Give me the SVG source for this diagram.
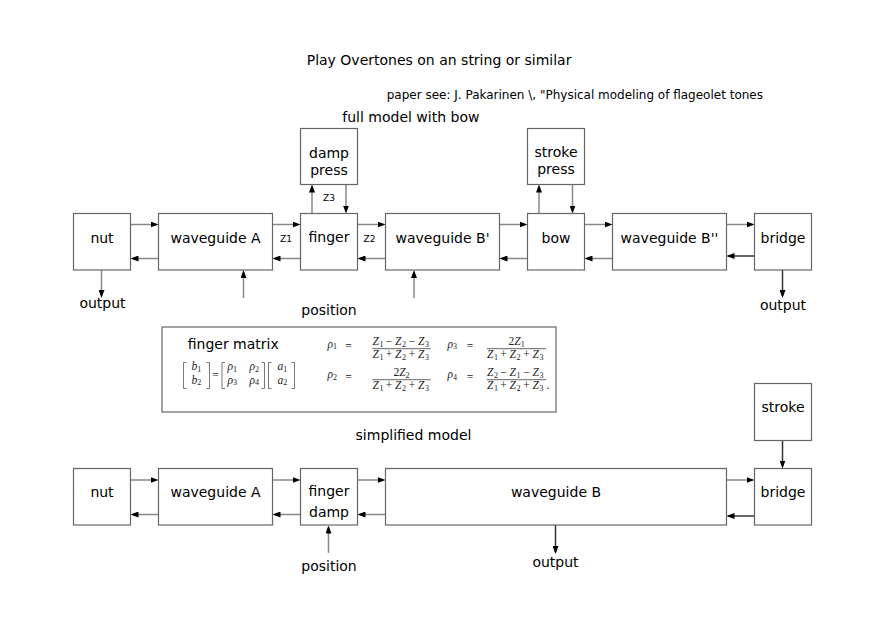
<svg xmlns="http://www.w3.org/2000/svg" width="892" height="626" viewBox="0 0 892 626">
<defs>
<style>
.box{fill:#fff;stroke:#666;stroke-width:1.2}
.t{font-family:"DejaVu Sans","Liberation Sans",sans-serif;font-size:14px;fill:#000;text-anchor:middle}
.ts{font-family:"DejaVu Sans","Liberation Sans",sans-serif;font-size:12px;fill:#000}
.z{font-family:"DejaVu Sans","Liberation Sans",sans-serif;font-size:9px;fill:#000;text-anchor:middle}
.ln{stroke:#888;stroke-width:1.5;fill:none;marker-end:url(#ah)}
.dk{stroke:#333}
.m{font-family:"Liberation Serif","DejaVu Serif",serif;font-size:11.5px;fill:#222}
.it{font-style:italic}
.s{font-size:8px;font-style:normal}
.br{stroke:#555;stroke-width:0.8;fill:none}
.bar{stroke:#222;stroke-width:0.7}
</style>
<marker id="ah" viewBox="0 0 8 6" refX="6" refY="3" markerWidth="8" markerHeight="6" markerUnits="userSpaceOnUse" orient="auto"><path d="M0,0 L8,3 L0,6 z" fill="#000"/></marker>
</defs>
<rect width="892" height="626" fill="#fff"/>

<g id="captions">
<text class="ts" x="306.7" y="64.5" style="font-size:14px">Play Overtones on an string or similar</text>
<text class="ts" x="386.7" y="99">paper see: J. Pakarinen \, "Physical modeling of flageolet tones</text>
<text class="ts" x="342.3" y="122" style="font-size:14px">full model with bow</text>
<text class="t" x="413.5" y="440.3">simplified model</text>
</g>

<g id="connectors">
<line class="ln" x1="130.5" y1="224.5" x2="156.5" y2="224.5"/>
<line class="ln" x1="158.5" y1="258.5" x2="132.5" y2="258.5"/>
<line class="ln" x1="272.5" y1="224.5" x2="298.5" y2="224.5"/>
<line class="ln" x1="300.5" y1="258.5" x2="274.5" y2="258.5"/>
<line class="ln" x1="357.5" y1="224.5" x2="383.5" y2="224.5"/>
<line class="ln" x1="385.5" y1="258.5" x2="359.5" y2="258.5"/>
<line class="ln" x1="499.5" y1="224.5" x2="525.5" y2="224.5"/>
<line class="ln" x1="527.5" y1="258.5" x2="501.5" y2="258.5"/>
<line class="ln" x1="584.5" y1="224.5" x2="610.5" y2="224.5"/>
<line class="ln" x1="612.5" y1="258.5" x2="586.5" y2="258.5"/>
<line class="ln" x1="726.5" y1="224.5" x2="752.5" y2="224.5"/>
<line class="ln dk" x1="754.5" y1="256" x2="728.5" y2="256"/>
<line class="ln" x1="312" y1="213.5" x2="312" y2="186.5"/>
<line class="ln" x1="346" y1="184.5" x2="346" y2="211.5"/>
<line class="ln" x1="539" y1="213.5" x2="539" y2="186.5"/>
<line class="ln" x1="572.5" y1="184.5" x2="572.5" y2="211.5"/>
<line class="ln" x1="243.5" y1="298" x2="243.5" y2="272"/>
<line class="ln" x1="414" y1="298" x2="414" y2="272"/>
<line class="ln" x1="101.5" y1="270" x2="101.5" y2="296"/>
<line class="ln dk" x1="782.5" y1="270" x2="782.5" y2="296"/>

<line class="ln" x1="130.5" y1="480" x2="156.5" y2="480"/>
<line class="ln" x1="158.5" y1="514.5" x2="132.5" y2="514.5"/>
<line class="ln" x1="272.5" y1="480" x2="298.5" y2="480"/>
<line class="ln" x1="300.5" y1="514.5" x2="274.5" y2="514.5"/>
<line class="ln" x1="357.5" y1="480" x2="383.5" y2="480"/>
<line class="ln" x1="385.5" y1="514.5" x2="359.5" y2="514.5"/>
<line class="ln" x1="726.5" y1="480" x2="752.5" y2="480"/>
<line class="ln dk" x1="754.5" y1="516" x2="728.5" y2="516"/>
<line class="ln dk" x1="782.5" y1="440.5" x2="782.5" y2="466.5"/>
<line class="ln" x1="328.5" y1="553" x2="328.5" y2="527.5"/>
<line class="ln dk" x1="555.5" y1="525" x2="555.5" y2="552"/>
</g>

<g id="connector-labels">
<text class="z" x="286" y="241.5">Z1</text>
<text class="z" x="369.5" y="241.5">Z2</text>
<text class="z" x="329" y="201">Z3</text>
<text class="t" x="102.5" y="307.5">output</text>
<text class="t" x="783" y="310">output</text>
<text class="t" x="329" y="315">position</text>
<text class="t" x="329" y="570.7">position</text>
<text class="t" x="555.5" y="566.5">output</text>
</g>

<g id="node-nut"><rect class="box" x="73.5" y="213.5" width="57" height="56.5"/><text class="t" x="102" y="242.5">nut</text></g>
<g id="node-waveguide-a"><rect class="box" x="158.5" y="213.5" width="114" height="56.5"/><text class="t" x="215.5" y="242.5">waveguide A</text></g>
<g id="node-finger"><rect class="box" x="300.5" y="213.5" width="57" height="56.5"/><text class="t" x="329" y="241.5">finger</text></g>
<g id="node-damp-press"><rect class="box" x="300.5" y="128.5" width="57" height="56"/><text class="t" x="329" y="157.5">damp</text><text class="t" x="329" y="175">press</text></g>
<g id="node-waveguide-b1"><rect class="box" x="385.5" y="213.5" width="114" height="56.5"/><text class="t" x="442.5" y="242.5">waveguide B'</text></g>
<g id="node-bow"><rect class="box" x="527.5" y="213.5" width="57" height="56.5"/><text class="t" x="556" y="242.5">bow</text></g>
<g id="node-stroke-press"><rect class="box" x="527.5" y="128.5" width="57" height="56"/><text class="t" x="556" y="156.5">stroke</text><text class="t" x="556" y="174">press</text></g>
<g id="node-waveguide-b2"><rect class="box" x="612.5" y="213.5" width="114" height="56.5"/><text class="t" x="669.5" y="242.5">waveguide B''</text></g>
<g id="node-bridge"><rect class="box" x="754.5" y="213.5" width="57" height="56.5"/><text class="t" x="783" y="242.5">bridge</text></g>

<g id="node-finger-matrix">
<rect class="box" x="162" y="327" width="394" height="85"/>
<text class="ts" x="187.7" y="348.5" style="font-size:14px">finger matrix</text>
<path class="br" d="M186.5,362.5 H183.5 V388.5 H186.5"/>
<path class="br" d="M206.5,362.5 H209.5 V388.5 H206.5"/>
<path class="br" d="M225,362.5 H222 V388.5 H225"/>
<path class="br" d="M261.5,362.5 H264.5 V388.5 H261.5"/>
<path class="br" d="M271.5,362.5 H268.5 V388.5 H271.5"/>
<path class="br" d="M291.5,362.5 H294.5 V388.5 H291.5"/>
<text class="m" x="191.5" y="370"><tspan class="it">b</tspan><tspan class="s" dy="1.8">1</tspan></text>
<text class="m" x="191.5" y="383.5"><tspan class="it">b</tspan><tspan class="s" dy="1.8">2</tspan></text>
<text class="m" x="215.5" y="378.8" text-anchor="middle">=</text>
<text class="m" x="227.5" y="370"><tspan class="it">ρ</tspan><tspan class="s" dy="1.8">1</tspan></text>
<text class="m" x="249.5" y="370"><tspan class="it">ρ</tspan><tspan class="s" dy="1.8">2</tspan></text>
<text class="m" x="227.5" y="383.5"><tspan class="it">ρ</tspan><tspan class="s" dy="1.8">3</tspan></text>
<text class="m" x="249.5" y="383.5"><tspan class="it">ρ</tspan><tspan class="s" dy="1.8">4</tspan></text>
<text class="m" x="277.5" y="370"><tspan class="it">a</tspan><tspan class="s" dy="1.8">1</tspan></text>
<text class="m" x="277.5" y="383.5"><tspan class="it">a</tspan><tspan class="s" dy="1.8">2</tspan></text>

<text class="m" x="327.5" y="347.5"><tspan class="it">ρ</tspan><tspan class="s" dy="1.8">1</tspan></text>
<text class="m" x="348.5" y="349.8" text-anchor="middle">=</text>
<text class="m" y="344.7"><tspan class="it" x="372.5">Z</tspan><tspan class="s" x="379.4" dy="1.8">1</tspan><tspan x="385.8" dy="-1.8">−</tspan><tspan class="it" x="395">Z</tspan><tspan class="s" x="401.9" dy="1.8">2</tspan><tspan x="408.8" dy="-1.8">−</tspan><tspan class="it" x="418">Z</tspan><tspan class="s" x="424.9" dy="1.8">3</tspan></text>
<line class="bar" x1="372.3" y1="348.7" x2="430.7" y2="348.7"/>
<text class="m" y="358.3"><tspan class="it" x="372.5">Z</tspan><tspan class="s" x="379.4" dy="1.8">1</tspan><tspan x="385.8" dy="-1.8">+</tspan><tspan class="it" x="395">Z</tspan><tspan class="s" x="401.9" dy="1.8">2</tspan><tspan x="408.8" dy="-1.8">+</tspan><tspan class="it" x="418">Z</tspan><tspan class="s" x="424.9" dy="1.8">3</tspan></text>

<text class="m" x="447.5" y="347.5"><tspan class="it">ρ</tspan><tspan class="s" dy="1.8">3</tspan></text>
<text class="m" x="470" y="349.8" text-anchor="middle">=</text>
<text class="m" x="516.7" y="344.7" text-anchor="middle">2<tspan class="it">Z</tspan><tspan class="s" dy="1.8">1</tspan></text>
<line class="bar" x1="486.8" y1="348.7" x2="546.2" y2="348.7"/>
<text class="m" y="358.3"><tspan class="it" x="487">Z</tspan><tspan class="s" x="493.9" dy="1.8">1</tspan><tspan x="500.3" dy="-1.8">+</tspan><tspan class="it" x="509.5">Z</tspan><tspan class="s" x="516.4" dy="1.8">2</tspan><tspan x="523.3" dy="-1.8">+</tspan><tspan class="it" x="532.5">Z</tspan><tspan class="s" x="539.4" dy="1.8">3</tspan></text>

<text class="m" x="327.5" y="378"><tspan class="it">ρ</tspan><tspan class="s" dy="1.8">2</tspan></text>
<text class="m" x="348.5" y="380.8" text-anchor="middle">=</text>
<text class="m" x="401.5" y="375.7" text-anchor="middle">2<tspan class="it">Z</tspan><tspan class="s" dy="1.8">2</tspan></text>
<line class="bar" x1="372.3" y1="379.7" x2="430.7" y2="379.7"/>
<text class="m" y="389.3"><tspan class="it" x="372.5">Z</tspan><tspan class="s" x="379.4" dy="1.8">1</tspan><tspan x="385.8" dy="-1.8">+</tspan><tspan class="it" x="395">Z</tspan><tspan class="s" x="401.9" dy="1.8">2</tspan><tspan x="408.8" dy="-1.8">+</tspan><tspan class="it" x="418">Z</tspan><tspan class="s" x="424.9" dy="1.8">3</tspan></text>

<text class="m" x="447.5" y="378"><tspan class="it">ρ</tspan><tspan class="s" dy="1.8">4</tspan></text>
<text class="m" x="470" y="380.8" text-anchor="middle">=</text>
<text class="m" y="375.7"><tspan class="it" x="487">Z</tspan><tspan class="s" x="493.9" dy="1.8">2</tspan><tspan x="500.3" dy="-1.8">−</tspan><tspan class="it" x="509.5">Z</tspan><tspan class="s" x="516.4" dy="1.8">1</tspan><tspan x="523.3" dy="-1.8">−</tspan><tspan class="it" x="532.5">Z</tspan><tspan class="s" x="539.4" dy="1.8">3</tspan></text>
<line class="bar" x1="486.8" y1="379.7" x2="546.2" y2="379.7"/>
<text class="m" y="389.3"><tspan class="it" x="487">Z</tspan><tspan class="s" x="493.9" dy="1.8">1</tspan><tspan x="500.3" dy="-1.8">+</tspan><tspan class="it" x="509.5">Z</tspan><tspan class="s" x="516.4" dy="1.8">2</tspan><tspan x="523.3" dy="-1.8">+</tspan><tspan class="it" x="532.5">Z</tspan><tspan class="s" x="539.4" dy="1.8">3</tspan></text>
<text class="m" x="546.5" y="389.3">.</text>
</g>

<g id="node-nut-2"><rect class="box" x="73.5" y="468.5" width="57" height="56.5"/><text class="t" x="102" y="497.3">nut</text></g>
<g id="node-waveguide-a-2"><rect class="box" x="158.5" y="468.5" width="114" height="56.5"/><text class="t" x="215.5" y="497.3">waveguide A</text></g>
<g id="node-finger-damp"><rect class="box" x="300.5" y="468.5" width="57" height="56.5"/><text class="t" x="329" y="495.5">finger</text><text class="t" x="329" y="516.5">damp</text></g>
<g id="node-waveguide-b"><rect class="box" x="385.5" y="468.5" width="341" height="56.5"/><text class="t" x="556" y="497.3">waveguide B</text></g>
<g id="node-bridge-2"><rect class="box" x="754.5" y="468.5" width="57" height="56.5"/><text class="t" x="783" y="497.3">bridge</text></g>
<g id="node-stroke"><rect class="box" x="754.5" y="383.5" width="57" height="57"/><text class="t" x="783" y="411.7">stroke</text></g>
</svg>
